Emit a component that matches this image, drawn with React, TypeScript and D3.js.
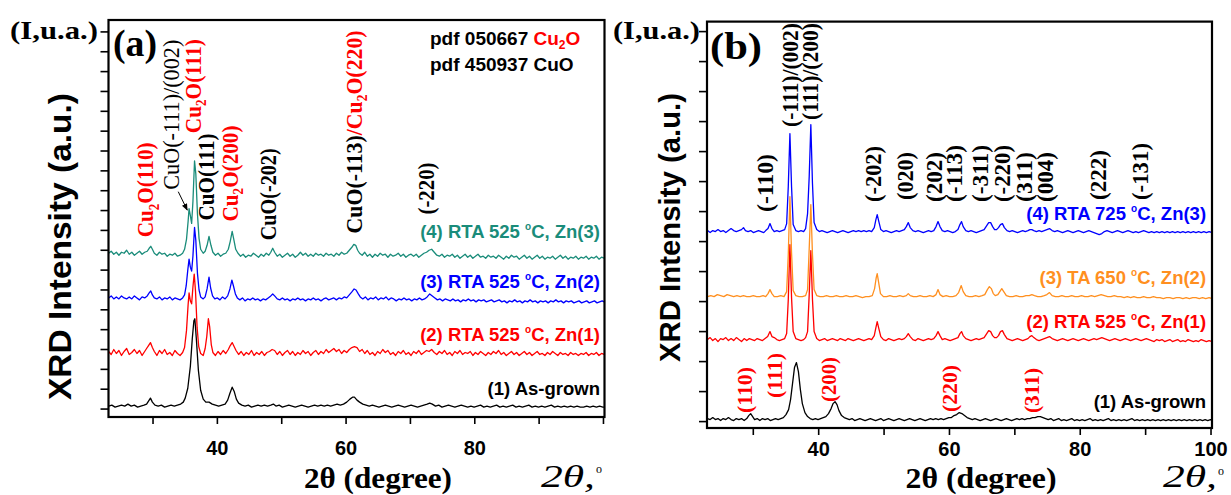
import React from "react";
import * as d3 from "d3";

type Pt = [number, number];

// ---------------- axes data ----------------
const xTickValues = [30, 40, 50, 60, 70, 80, 90, 100];
const xTickLabelsA = [40, 60, 80];
const xTickLabelsB = [40, 60, 80, 100];
const yTicksA = [0, 20, 40, 60, 80, 100, 120, 140, 160, 180, 200, 220, 240, 260, 280, 300, 320, 340, 360, 380];
const yTicksB = [0, 30, 60, 90, 120, 150, 180, 210, 240, 270, 300, 330, 360, 390];

// ---------------- panel (a) series (2θ, intensity above own baseline) ----------------
const offsetsA = [3, 57, 112, 157]; // (1) black, (2) red, (3) blue, (4) teal

const asGrownA: Pt[] = [[23.1,0],[23.6,1],[24.1,-1],[24.6,0],[25.1,1],[25.6,0],[26.1,2],[26.6,0],[27.1,1],[27.6,-1],[28.1,0],[28.6,1],[29.0,2],[29.3,5],[29.6,8],[29.9,4],[30.3,1],[30.8,0],[31.3,1],[31.8,-1],[32.3,0],[32.8,1],[33.3,0],[33.8,1],[34.3,2],[34.7,4],[35.0,8],[35.4,18],[35.8,40],[36.1,68],[36.35,86],[36.5,88],[36.75,66],[37.05,36],[37.4,16],[37.8,7],[38.2,4],[38.7,4],[39.2,2],[39.7,1],[40.2,0],[40.7,1],[41.2,2],[41.6,6],[41.95,13],[42.3,19],[42.6,15],[42.95,7],[43.3,3],[43.8,1],[44.3,0],[44.8,1],[45.3,-1],[45.8,0],[46.3,1],[46.8,0],[47.3,1],[47.8,0],[48.3,1],[48.7,2],[49.1,0],[49.6,1],[50.1,-1],[50.6,0],[51.1,1],[51.6,0],[52.1,-1],[52.6,0],[53.1,1],[53.6,0],[54.1,-1],[54.6,0],[55.1,1],[55.6,0],[56.1,1],[56.6,0],[57.1,1],[57.6,0],[58.1,1],[58.6,2],[59.1,1],[59.6,2],[60.1,4],[60.6,7],[61.0,9],[61.3,9],[61.7,6],[62.1,4],[62.6,2],[63.1,1],[63.6,0],[64.1,1],[64.6,0],[65.1,-1],[65.6,0],[66.1,1],[66.6,0],[67.1,-1],[67.6,0],[68.1,1],[68.6,0],[69.1,-1],[69.6,0],[70.1,1],[70.6,0],[71.1,-1],[71.6,0],[72.1,1],[72.6,2],[73.0,3],[73.4,2],[73.9,0],[74.4,1],[74.9,-1],[75.4,0],[75.9,1],[76.4,0],[76.9,-1],[77.4,0],[77.9,1],[78.4,0],[78.9,-1],[79.4,0],[79.9,-1],[80.4,0],[80.9,1],[81.4,-1],[81.9,0],[82.4,-1],[82.9,0],[83.4,1],[83.9,-1],[84.4,0],[84.9,-1],[85.4,0],[85.9,1],[86.4,-1],[86.9,0],[87.4,-1],[87.9,0],[88.4,1],[88.9,-1],[89.4,0],[89.9,-1],[90.4,0],[90.9,-1],[91.4,0],[91.9,1],[92.4,-1],[92.9,0],[93.4,-1],[93.9,0],[94.4,-1],[94.9,0],[95.4,-1],[95.9,0],[96.4,-1],[96.9,-1],[97.4,0],[97.9,-1],[98.4,0],[98.9,-1],[99.4,0],[99.9,-1],[100.1,-1]];

const rta1A: Pt[] = [[23.1,1],[23.5,-2],[23.9,3],[24.3,-1],[24.7,2],[25.1,-3],[25.5,1],[25.9,4],[26.3,-2],[26.7,0],[27.1,3],[27.5,-1],[27.9,2],[28.3,-3],[28.7,1],[29.0,4],[29.3,7],[29.6,10],[29.9,5],[30.2,1],[30.6,-3],[31.0,2],[31.4,-1],[31.8,3],[32.2,-2],[32.6,0],[33.0,-3],[33.4,2],[33.8,-1],[34.2,-3],[34.6,0],[34.9,5],[35.2,22],[35.45,48],[35.6,60],[35.8,52],[36.0,49],[36.2,66],[36.4,79],[36.6,62],[36.85,25],[37.1,6],[37.4,-1],[37.8,-3],[38.1,4],[38.35,16],[38.6,34],[38.8,26],[39.05,8],[39.3,0],[39.7,-3],[40.1,1],[40.5,-2],[40.9,2],[41.3,-1],[41.7,3],[42.0,7],[42.3,10],[42.6,6],[42.9,2],[43.3,-2],[43.7,1],[44.1,-3],[44.5,0],[44.9,-2],[45.3,2],[45.7,-3],[46.1,0],[46.5,-2],[46.9,1],[47.3,-3],[47.7,0],[48.1,1],[48.5,3],[48.9,2],[49.3,-2],[49.7,1],[50.1,-3],[50.5,0],[50.9,2],[51.3,-2],[51.7,1],[52.1,-3],[52.5,0],[52.9,-2],[53.3,2],[53.7,-1],[54.1,1],[54.5,-3],[54.9,0],[55.3,2],[55.7,-2],[56.1,1],[56.5,-1],[56.9,3],[57.3,0],[57.7,2],[58.1,4],[58.5,1],[58.9,3],[59.3,-1],[59.7,2],[60.1,0],[60.5,3],[60.9,5],[61.3,6],[61.7,5],[62.1,1],[62.5,3],[62.9,-1],[63.3,2],[63.7,-2],[64.1,0],[64.5,-3],[64.9,1],[65.3,-1],[65.7,3],[66.1,0],[66.5,2],[66.9,-2],[67.3,0],[67.7,-3],[68.1,1],[68.5,-1],[68.9,2],[69.3,-2],[69.7,0],[70.1,-3],[70.5,1],[70.9,-1],[71.3,2],[71.7,-2],[72.1,0],[72.5,2],[72.9,1],[73.3,3],[73.7,0],[74.1,-2],[74.5,1],[74.9,-1],[75.3,2],[75.7,-2],[76.1,0],[76.5,-3],[76.9,1],[77.3,-1],[77.7,2],[78.1,-2],[78.5,0],[78.9,-1],[79.3,1],[79.7,-3],[80.1,0],[80.5,-2],[80.9,1],[81.3,-1],[81.7,-3],[82.1,0],[82.5,-2],[82.9,1],[83.3,-1],[83.7,2],[84.1,-2],[84.5,0],[84.9,-3],[85.3,-1],[85.7,1],[86.1,-2],[86.5,0],[86.9,-3],[87.3,-1],[87.7,1],[88.1,-2],[88.5,0],[88.9,-3],[89.3,-1],[89.7,1],[90.1,-2],[90.5,-1],[90.9,-3],[91.3,0],[91.7,-2],[92.1,1],[92.5,-1],[92.9,-3],[93.3,0],[93.7,-2],[94.1,-1],[94.5,-3],[94.9,0],[95.3,-2],[95.7,-1],[96.1,-3],[96.5,-1],[96.9,-2],[97.3,0],[97.7,-3],[98.1,-1],[98.5,-2],[98.9,0],[99.3,-3],[99.7,-1],[100.1,-2]];

const rta2A: Pt[] = [[23.1,0],[23.5,2],[23.9,-1],[24.3,1],[24.7,-1],[25.1,2],[25.5,0],[25.9,-1],[26.3,1],[26.7,-1],[27.1,2],[27.5,0],[27.9,-2],[28.3,1],[28.7,0],[29.1,2],[29.4,5],[29.65,7],[29.9,3],[30.2,0],[30.6,-1],[31.0,1],[31.4,-2],[31.8,0],[32.2,-1],[32.6,1],[33.0,-2],[33.4,0],[33.8,-1],[34.2,-2],[34.6,0],[34.9,3],[35.15,12],[35.4,28],[35.6,39],[35.8,31],[36.0,27],[36.2,42],[36.45,71],[36.65,58],[36.9,25],[37.15,8],[37.4,1],[37.8,-1],[38.1,1],[38.4,9],[38.7,21],[38.95,10],[39.25,2],[39.6,-1],[40.0,0],[40.4,-2],[40.8,1],[41.2,-1],[41.6,2],[41.95,9],[42.25,18],[42.5,12],[42.8,4],[43.1,0],[43.5,-2],[43.9,0],[44.3,-3],[44.7,-1],[45.1,-2],[45.5,0],[45.9,-2],[46.3,-1],[46.7,-3],[47.1,-1],[47.5,-2],[47.9,0],[48.3,2],[48.6,4],[48.9,2],[49.3,-1],[49.7,-2],[50.1,0],[50.5,-2],[50.9,-1],[51.3,-3],[51.7,-1],[52.1,-2],[52.5,0],[52.9,-2],[53.3,-1],[53.7,-3],[54.1,-1],[54.5,-2],[54.9,0],[55.3,-2],[55.7,-1],[56.1,-3],[56.5,-1],[56.9,0],[57.3,-2],[57.7,-1],[58.1,0],[58.5,-2],[58.9,0],[59.3,-1],[59.7,1],[60.1,0],[60.5,3],[60.9,6],[61.25,9],[61.55,8],[61.9,4],[62.2,1],[62.6,-1],[63.0,1],[63.4,-2],[63.8,0],[64.2,-1],[64.6,1],[65.0,-2],[65.4,0],[65.8,-1],[66.2,1],[66.6,-2],[67.0,0],[67.4,-1],[67.8,-3],[68.2,-1],[68.6,-2],[69.0,0],[69.4,-2],[69.8,-1],[70.2,-3],[70.6,-1],[71.0,-2],[71.4,0],[71.8,-2],[72.2,-1],[72.6,1],[73.0,4],[73.4,2],[73.8,0],[74.2,-2],[74.6,-1],[75.0,-3],[75.4,-1],[75.8,-2],[76.2,-3],[76.6,-1],[77.0,-3],[77.4,-2],[77.8,-4],[78.2,-2],[78.6,-3],[79.0,-1],[79.4,-3],[79.8,-2],[80.2,-4],[80.6,-2],[81.0,-3],[81.4,-2],[81.8,-4],[82.2,-3],[82.6,-2],[83.0,-4],[83.4,-3],[83.8,-2],[84.2,-4],[84.6,-3],[85.0,-5],[85.4,-3],[85.8,-4],[86.2,-2],[86.6,-4],[87.0,-3],[87.4,-5],[87.8,-3],[88.2,-4],[88.6,-2],[89.0,-4],[89.4,-3],[89.8,-5],[90.2,-3],[90.6,-4],[91.0,-3],[91.4,-5],[91.8,-3],[92.2,-4],[92.6,-2],[93.0,-4],[93.4,-3],[93.8,-5],[94.2,-3],[94.6,-4],[95.0,-3],[95.4,-5],[95.8,-4],[96.2,-3],[96.6,-5],[97.0,-4],[97.4,-3],[97.8,-5],[98.2,-4],[98.6,-3],[99.0,-5],[99.4,-4],[99.8,-3],[100.1,-4]];

const rta3A: Pt[] = [[23.1,0],[23.5,2],[23.9,-1],[24.3,1],[24.7,-2],[25.1,1],[25.5,0],[25.9,3],[26.3,-1],[26.7,1],[27.1,-2],[27.5,0],[27.9,2],[28.3,-1],[28.7,1],[29.1,2],[29.4,5],[29.65,7],[29.9,4],[30.2,0],[30.6,-2],[31.0,1],[31.4,-1],[31.8,0],[32.2,-3],[32.6,-1],[33.0,-2],[33.4,0],[33.8,-3],[34.2,-2],[34.6,0],[34.9,4],[35.2,14],[35.45,32],[35.6,45],[35.8,38],[36.0,30],[36.2,52],[36.45,93],[36.65,80],[36.9,40],[37.15,15],[37.4,4],[37.8,0],[38.1,2],[38.4,8],[38.7,17],[39.0,8],[39.3,1],[39.7,-2],[40.1,0],[40.5,-3],[40.9,-1],[41.3,0],[41.7,4],[42.0,12],[42.3,22],[42.55,14],[42.85,4],[43.2,0],[43.6,-3],[44.0,-1],[44.4,-4],[44.8,-2],[45.2,-3],[45.6,0],[46.0,-2],[46.4,-4],[46.8,-1],[47.2,-3],[47.6,0],[48.0,-2],[48.3,1],[48.6,5],[48.9,1],[49.3,-3],[49.7,-1],[50.1,-4],[50.5,-2],[50.9,0],[51.3,-3],[51.7,-1],[52.1,-4],[52.5,-2],[52.9,1],[53.3,-2],[53.7,0],[54.1,-3],[54.5,-1],[54.9,-3],[55.3,0],[55.7,-2],[56.1,-1],[56.5,-3],[56.9,0],[57.3,-2],[57.7,-1],[58.1,-3],[58.5,0],[58.9,-2],[59.3,1],[59.7,-1],[60.1,0],[60.5,3],[60.9,6],[61.2,9],[61.5,8],[61.8,3],[62.1,0],[62.5,-2],[62.9,1],[63.3,-3],[63.7,-1],[64.1,-4],[64.5,-1],[64.9,-3],[65.3,0],[65.7,-2],[66.1,-1],[66.5,-4],[66.9,-1],[67.3,-3],[67.7,-2],[68.1,0],[68.5,-3],[68.9,-1],[69.3,-4],[69.7,-2],[70.1,-1],[70.5,-3],[70.9,-1],[71.3,-4],[71.7,-2],[72.1,0],[72.5,1],[72.9,3],[73.3,4],[73.7,1],[74.1,-2],[74.5,-3],[74.9,-1],[75.3,-4],[75.7,-2],[76.1,-3],[76.5,-1],[76.9,-4],[77.3,-2],[77.7,-5],[78.1,-3],[78.5,-1],[78.9,-4],[79.3,-2],[79.7,-5],[80.1,-3],[80.5,-1],[80.9,-4],[81.3,-3],[81.7,-5],[82.1,-2],[82.5,-4],[82.9,-3],[83.3,-5],[83.7,-2],[84.1,-4],[84.5,-6],[84.9,-3],[85.3,-5],[85.7,-2],[86.1,-4],[86.5,-3],[86.9,-6],[87.3,-4],[87.7,-2],[88.1,-5],[88.5,-3],[88.9,-6],[89.3,-4],[89.7,-2],[90.1,-5],[90.5,-3],[90.9,-6],[91.3,-4],[91.7,-5],[92.1,-3],[92.5,-6],[92.9,-4],[93.3,-2],[93.7,-5],[94.1,-3],[94.5,-6],[94.9,-4],[95.3,-5],[95.7,-3],[96.1,-6],[96.5,-4],[96.9,-5],[97.3,-3],[97.7,-6],[98.1,-4],[98.5,-5],[98.9,-3],[99.3,-6],[99.7,-4],[100.1,-5]];

// ---------------- panel (b) series ----------------
const offsetsB = [2, 82, 125, 190]; // (1) black, (2) red, (3) orange, (4) blue

const asGrownB: Pt[] = [[23.0,1],[23.4,0],[23.8,2],[24.2,0],[24.6,1],[25.0,-1],[25.4,1],[25.8,0],[26.2,2],[26.6,0],[27.0,-1],[27.4,1],[27.8,0],[28.2,1],[28.6,-1],[29.0,1],[29.3,4],[29.6,6],[29.9,3],[30.2,0],[30.6,1],[31.0,-1],[31.4,1],[31.8,0],[32.2,1],[32.6,-1],[33.0,0],[33.4,1],[33.8,0],[34.2,1],[34.6,2],[35.0,5],[35.4,10],[35.7,20],[36.0,36],[36.3,52],[36.6,57],[36.9,48],[37.2,30],[37.5,16],[37.9,7],[38.3,3],[38.7,1],[39.1,0],[39.5,1],[39.9,0],[40.3,1],[40.7,2],[41.1,3],[41.5,6],[41.9,11],[42.2,16],[42.5,18],[42.8,15],[43.1,9],[43.5,4],[43.9,2],[44.3,1],[44.7,0],[45.1,1],[45.5,-1],[45.9,0],[46.3,1],[46.7,0],[47.1,-1],[47.5,0],[47.9,1],[48.3,0],[48.7,-1],[49.1,0],[49.5,1],[49.9,-1],[50.3,0],[50.7,1],[51.1,0],[51.5,-1],[51.9,0],[52.3,1],[52.7,0],[53.1,-1],[53.5,0],[53.9,1],[54.3,0],[54.7,-1],[55.1,0],[55.5,1],[55.9,0],[56.3,-1],[56.7,0],[57.1,1],[57.5,0],[57.9,1],[58.3,0],[58.7,1],[59.1,0],[59.5,1],[59.9,2],[60.3,2],[60.7,4],[61.1,5],[61.5,7],[61.9,6],[62.3,4],[62.7,2],[63.1,1],[63.5,0],[63.9,1],[64.3,0],[64.7,-1],[65.1,0],[65.5,1],[65.9,0],[66.3,-1],[66.7,0],[67.1,1],[67.5,0],[67.9,-1],[68.3,0],[68.7,1],[69.1,0],[69.5,-1],[69.9,0],[70.3,1],[70.7,0],[71.1,1],[71.5,0],[71.9,1],[72.3,1],[72.7,2],[73.1,2],[73.5,3],[73.9,3],[74.3,2],[74.7,1],[75.1,0],[75.5,1],[75.9,-1],[76.3,0],[76.7,1],[77.1,-1],[77.5,0],[77.9,-1],[78.3,0],[78.7,1],[79.1,-1],[79.5,0],[79.9,-1],[80.3,0],[80.7,-1],[81.1,0],[81.5,1],[81.9,-1],[82.3,0],[82.7,-1],[83.1,0],[83.5,-1],[83.9,0],[84.3,1],[84.7,-1],[85.1,0],[85.5,-1],[85.9,0],[86.3,-1],[86.7,0],[87.1,-1],[87.5,0],[87.9,1],[88.3,-1],[88.7,0],[89.1,-1],[89.5,0],[89.9,-1],[90.3,0],[90.7,-1],[91.1,0],[91.5,-1],[91.9,0],[92.3,-1],[92.7,0],[93.1,-1],[93.5,0],[93.9,-1],[94.3,0],[94.7,-1],[95.1,0],[95.5,-1],[95.9,0],[96.3,-1],[96.7,0],[97.1,-1],[97.5,0],[97.9,-1],[98.3,0],[98.7,-1],[99.1,0],[99.5,-1],[99.9,0],[100.2,-1]];

const rta525B: Pt[] = [[23.0,0],[23.4,2],[23.8,-1],[24.2,1],[24.6,-2],[25.0,1],[25.4,0],[25.8,2],[26.2,-1],[26.6,1],[27.0,-1],[27.4,2],[27.8,0],[28.2,-2],[28.6,1],[29.0,-1],[29.4,1],[29.8,0],[30.2,-1],[30.6,1],[31.0,0],[31.4,-1],[31.8,1],[32.2,3],[32.55,8],[32.85,3],[33.2,2],[33.6,0],[34.0,-1],[34.4,0],[34.8,1],[35.1,6],[35.35,40],[35.6,95],[35.85,42],[36.1,8],[36.5,1],[36.9,0],[37.3,-1],[37.7,0],[38.0,2],[38.3,8],[38.55,45],[38.8,89],[39.05,40],[39.3,8],[39.7,1],[40.1,-1],[40.5,0],[40.9,1],[41.3,-1],[41.7,0],[42.1,1],[42.5,0],[42.9,-1],[43.3,1],[43.7,0],[44.1,-1],[44.5,1],[44.9,0],[45.3,-1],[45.7,0],[46.1,1],[46.5,0],[46.9,-1],[47.3,0],[47.7,1],[48.1,0],[48.5,4],[48.75,12],[48.95,18],[49.2,11],[49.5,3],[49.9,0],[50.3,-1],[50.7,1],[51.1,0],[51.5,-1],[51.9,0],[52.3,1],[52.7,0],[53.1,1],[53.4,3],[53.7,6],[54.0,3],[54.4,0],[54.8,-1],[55.2,1],[55.6,0],[56.0,-1],[56.4,0],[56.8,1],[57.2,0],[57.6,1],[57.95,4],[58.25,8],[58.55,4],[58.9,0],[59.3,1],[59.7,0],[60.1,-1],[60.5,0],[60.9,1],[61.3,2],[61.6,6],[61.85,8],[62.1,4],[62.5,1],[62.9,0],[63.3,-1],[63.7,0],[64.1,1],[64.5,0],[64.9,1],[65.3,2],[65.7,6],[66.0,9],[66.3,8],[66.6,4],[66.9,2],[67.2,2],[67.5,4],[67.8,8],[68.1,9],[68.4,5],[68.8,1],[69.2,0],[69.6,-1],[70.0,0],[70.4,1],[70.8,0],[71.2,-1],[71.6,0],[72.0,1],[72.3,3],[72.6,4],[72.9,2],[73.3,0],[73.7,-1],[74.1,0],[74.5,1],[74.9,2],[75.3,3],[75.7,1],[76.1,0],[76.5,-1],[76.9,0],[77.3,1],[77.7,0],[78.1,-1],[78.5,0],[78.9,1],[79.3,0],[79.7,-1],[80.1,0],[80.5,1],[80.9,0],[81.3,-1],[81.7,0],[82.1,1],[82.5,0],[82.9,1],[83.3,2],[83.7,1],[84.1,0],[84.5,-1],[84.9,0],[85.3,1],[85.7,0],[86.1,-1],[86.5,0],[86.9,1],[87.3,0],[87.7,-1],[88.1,0],[88.5,1],[88.9,0],[89.3,-1],[89.7,0],[90.1,1],[90.5,0],[90.9,-1],[91.3,-2],[91.7,0],[92.1,-1],[92.5,0],[92.9,-2],[93.3,-1],[93.7,0],[94.1,-2],[94.5,-1],[94.9,0],[95.3,-2],[95.7,-1],[96.1,-2],[96.5,0],[96.9,-1],[97.3,-2],[97.7,-1],[98.1,-2],[98.5,0],[98.9,-1],[99.3,-2],[99.7,-1],[100.2,-2]];

const ta650B: Pt[] = [[23.0,0],[23.5,1],[24.0,0],[24.5,2],[25.0,1],[25.5,0],[26.0,2],[26.5,1],[27.0,0],[27.5,1],[28.0,0],[28.5,1],[29.0,0],[29.5,0],[30.0,1],[30.5,0],[31.0,0],[31.5,1],[31.9,0],[32.25,3],[32.55,7],[32.85,3],[33.2,0],[33.7,0],[34.2,1],[34.7,0],[35.1,5],[35.35,42],[35.6,100],[35.85,44],[36.1,6],[36.5,1],[37.0,0],[37.5,0],[38.0,1],[38.3,7],[38.55,48],[38.8,92],[39.05,42],[39.3,7],[39.7,1],[40.2,0],[40.7,0],[41.2,1],[41.7,0],[42.2,0],[42.7,1],[43.2,0],[43.7,0],[44.2,1],[44.7,0],[45.2,0],[45.7,1],[46.2,0],[46.7,-1],[47.2,0],[47.7,0],[48.2,1],[48.55,8],[48.8,19],[48.95,23],[49.15,15],[49.45,3],[49.9,0],[50.4,0],[50.9,1],[51.4,0],[51.9,0],[52.4,1],[52.9,0],[53.4,1],[53.7,3],[54.0,1],[54.5,0],[55.0,0],[55.5,1],[56.0,0],[56.5,0],[57.0,1],[57.5,0],[57.95,2],[58.25,7],[58.55,2],[59.0,0],[59.5,1],[60.0,0],[60.5,0],[61.0,1],[61.4,4],[61.8,11],[62.1,5],[62.5,1],[63.0,0],[63.5,0],[64.0,1],[64.5,0],[65.0,1],[65.4,2],[65.8,7],[66.1,10],[66.4,8],[66.7,3],[67.0,1],[67.4,2],[67.7,5],[68.0,8],[68.3,5],[68.7,1],[69.2,0],[69.7,0],[70.2,1],[70.7,0],[71.2,0],[71.7,1],[72.2,1],[72.6,2],[73.0,1],[73.5,0],[74.0,0],[74.5,1],[74.9,2],[75.3,4],[75.7,1],[76.2,0],[76.7,0],[77.2,1],[77.7,0],[78.2,0],[78.7,1],[79.2,0],[79.7,0],[80.2,1],[80.7,0],[81.2,0],[81.7,1],[82.2,0],[82.7,1],[83.2,2],[83.7,1],[84.2,0],[84.7,0],[85.2,1],[85.7,0],[86.2,0],[86.7,-1],[87.2,0],[87.7,-1],[88.2,0],[88.7,-1],[89.2,-1],[89.7,0],[90.2,-1],[90.7,-1],[91.2,0],[91.7,-1],[92.2,-1],[92.7,-2],[93.2,-1],[93.7,-1],[94.2,-2],[94.7,-1],[95.2,-1],[95.7,-2],[96.2,-1],[96.7,-2],[97.2,-1],[97.7,-1],[98.2,-2],[98.7,-1],[99.2,-2],[99.7,-1],[100.2,-2]];

const rta725B: Pt[] = [[23.0,1],[23.4,-1],[23.8,1],[24.2,0],[24.6,2],[25.0,0],[25.4,1],[25.8,-1],[26.2,1],[26.6,3],[27.0,1],[27.4,0],[27.8,1],[28.2,2],[28.5,4],[28.8,1],[29.2,0],[29.6,1],[30.0,-1],[30.4,0],[30.8,1],[31.2,0],[31.6,-1],[31.9,1],[32.25,3],[32.55,8],[32.85,3],[33.2,0],[33.6,1],[34.0,0],[34.4,1],[34.8,2],[35.1,8],[35.35,45],[35.6,98],[35.85,45],[36.1,7],[36.5,1],[36.9,0],[37.3,1],[37.7,0],[38.0,3],[38.3,18],[38.55,55],[38.8,107],[39.05,48],[39.3,9],[39.7,2],[40.1,0],[40.5,1],[40.9,0],[41.3,-1],[41.7,0],[42.1,1],[42.5,0],[42.9,-1],[43.3,0],[43.7,1],[44.1,0],[44.5,-1],[44.9,0],[45.3,1],[45.7,0],[46.1,1],[46.5,0],[46.9,1],[47.3,0],[47.7,1],[48.1,0],[48.5,4],[48.75,12],[48.95,17],[49.2,10],[49.5,2],[49.9,0],[50.3,1],[50.7,0],[51.1,-1],[51.5,0],[51.9,1],[52.3,0],[52.7,1],[53.1,2],[53.4,5],[53.7,9],[54.0,4],[54.4,1],[54.8,0],[55.2,1],[55.6,0],[56.0,-1],[56.4,0],[56.8,1],[57.2,0],[57.6,1],[57.95,5],[58.25,10],[58.55,5],[58.9,1],[59.3,0],[59.7,1],[60.1,0],[60.5,-1],[60.9,0],[61.3,2],[61.6,7],[61.85,10],[62.1,5],[62.5,1],[62.9,0],[63.3,1],[63.7,0],[64.1,-1],[64.5,0],[64.9,1],[65.3,2],[65.7,6],[66.0,9],[66.3,9],[66.6,5],[66.9,2],[67.2,2],[67.5,4],[67.8,7],[68.1,8],[68.4,4],[68.8,1],[69.2,0],[69.6,1],[70.0,0],[70.4,-1],[70.8,0],[71.2,1],[71.6,0],[72.0,1],[72.3,2],[72.6,2],[72.9,1],[73.3,0],[73.7,1],[74.1,0],[74.5,1],[74.9,2],[75.3,3],[75.7,1],[76.1,0],[76.5,1],[76.9,0],[77.3,-1],[77.7,0],[78.1,1],[78.5,0],[78.9,-1],[79.3,0],[79.7,1],[80.1,0],[80.5,-1],[80.9,0],[81.3,1],[81.7,0],[82.1,-1],[82.5,-2],[82.9,-3],[83.3,-2],[83.7,0],[84.1,1],[84.5,0],[84.9,-1],[85.3,0],[85.7,1],[86.1,0],[86.5,-1],[86.9,0],[87.3,1],[87.7,0],[88.1,-1],[88.5,0],[88.9,-1],[89.3,0],[89.7,1],[90.1,0],[90.5,-1],[90.9,0],[91.3,-1],[91.7,0],[92.1,-1],[92.5,0],[92.9,-1],[93.3,0],[93.7,-1],[94.1,0],[94.5,-1],[94.9,0],[95.3,-1],[95.7,0],[96.1,-1],[96.5,0],[96.9,-1],[97.3,0],[97.7,-1],[98.1,0],[98.5,-1],[98.9,0],[99.3,-1],[99.7,0],[100.2,-1]];

// ---------------- legends ----------------
const legendA = ["(1) As-grown", "(2) RTA 525 |C, Zn(1)", "(3) RTA 525 |C, Zn(2)", "(4) RTA 525 |C, Zn(3)"];
const legendB = ["(1) As-grown", "(2) RTA 525 |C, Zn(1)", "(3) TA 650 |C, Zn(2)", "(4) RTA 725 |C, Zn(3)"];

// ---------------- peak annotations ----------------
// parts: [text, phase ("o" = Cu2O red, "c" = CuO black), subscript?]
type Part = [string, string, boolean?];
const peakLabelsA: { pos: number; at: number; len: number; parts: Part[]; light?: boolean }[] = [
  { pos: 29.14, at: 173, len: 95, parts: [["Cu", "o"], ["2", "o", true], ["O(110)", "o"]] },
  { pos: 33.15, at: 221, len: 150, parts: [["CuO(-111)/(002)", "c"]], light: true },
  { pos: 36.52, at: 278, len: 94, parts: [["Cu", "o"], ["2", "o", true], ["O(111)", "o"]] },
  { pos: 38.5, at: 190, len: 87, parts: [["CuO(111)", "c"]] },
  { pos: 42.3, at: 189, len: 96, parts: [["Cu", "o"], ["2", "o", true], ["O(200)", "o"]] },
  { pos: 48.2, at: 170, len: 92, parts: [["CuO(-202)", "c"]] },
  { pos: 61.54, at: 177, len: 203, parts: [["CuO(-113)", "c"], ["/Cu", "o"], ["2", "o", true], ["O(220)", "o"]] },
  { pos: 72.77, at: 196, len: 52, parts: [["(-220)", "c"]] },
];
const arrowA: Pt[] = [[33.92, 219], [35.32, 200.5]];

const peakLabelsB: { pos: number; at: number; len: number; text: string }[] = [
  { pos: 32.03, at: 209.6, len: 58, text: "(-110)" },
  { pos: 35.86, at: 294.6, len: 104, text: "(-111)/(002)" },
  { pos: 38.91, at: 301.6, len: 97, text: "(111)/(200)" },
  { pos: 48.6, at: 219.6, len: 56, text: "(-202)" },
  { pos: 53.44, at: 221.6, len: 48, text: "(020)" },
  { pos: 57.93, at: 219.6, len: 50, text: "(202)" },
  { pos: 60.99, at: 219.6, len: 57, text: "(-113)" },
  { pos: 64.92, at: 219.6, len: 57, text: "(-311)" },
  { pos: 68.33, at: 219.6, len: 57, text: "(-220)" },
  { pos: 71.69, at: 219.6, len: 50, text: "(311)" },
  { pos: 74.86, at: 219.6, len: 50, text: "(004)" },
  { pos: 82.97, at: 221.6, len: 50, text: "(222)" },
  { pos: 89.5, at: 221.6, len: 57, text: "(-131)" },
];
const cu2oLabelsB: { pos: number; at: number; len: number; text: string }[] = [
  { pos: 28.97, at: 8.6, len: 46, text: "(110)" },
  { pos: 33.45, at: 23.6, len: 45, text: "(111)" },
  { pos: 41.71, at: 19.6, len: 45, text: "(200)" },
  { pos: 60.33, at: 9.6, len: 47, text: "(220)" },
  { pos: 72.8, at: 8.6, len: 45, text: "(311)" },
];

// ---------------- styling ----------------
const SANS = "'Liberation Sans', Arial, sans-serif";
const SERIF = "'Liberation Serif', 'Times New Roman', serif";
const RED = "#ff0000";
const BLUE = "#0000ff";
const TEAL = "#1a8c7a";
const ORANGE = "#ff8f1f";
const colorsA = ["#000000", RED, BLUE, TEAL];
const colorsB = ["#000000", RED, ORANGE, BLUE];

function Legend({ x, y, label, color }: { x: number; y: number; label: string; color: string }) {
  const [pre, post] = label.split("|");
  return (
    <text x={x} y={y} textAnchor="end" fontFamily={SANS} fontWeight="bold" fontSize={18.5} fill={color}>
      {pre}
      {post !== undefined && (
        <>
          <tspan fontSize={10} dy={-8}>o</tspan>
          <tspan dy={8}>{post}</tspan>
        </>
      )}
    </text>
  );
}

function RotText({ x, y, size, weight, len, children }: { x: number; y: number; size: number; weight: string; len: number; children: React.ReactNode }) {
  return (
    <text transform={`translate(${x + 0.26 * size},${y}) rotate(-90)`} fontFamily={SERIF} fontSize={size} fontWeight={weight} textLength={len} lengthAdjust="spacingAndGlyphs">
      {children}
    </text>
  );
}

export default function App() {
  const xA = d3.scaleLinear().domain([23.08, 100.16]).range([108.5, 604.5]);
  const yA = d3.scaleLinear().domain([-8, 392]).range([417, 20]);
  const xB = d3.scaleLinear().domain([22.92, 100.15]).range([707, 1212]);
  const yB = d3.scaleLinear().domain([-6.4, 400]).range([428, 21.6]);

  const seriesA = [asGrownA, rta1A, rta2A, rta3A];
  const seriesB = [asGrownB, rta525B, ta650B, rta725B];
  const mk = (xs: d3.ScaleLinear<number, number>, ys: d3.ScaleLinear<number, number>, off: number) =>
    d3.line<Pt>().x((d) => xs(d[0])).y((d) => ys(d[1] + off));

  const orderA = [3, 2, 1, 0];
  const orderB = [0, 1, 2, 3];
  const legendAtA = [14.5, 68.5, 122, 172];
  const legendAtB = [13.6, 93.6, 138, 202];

  const frame = (xs: d3.ScaleLinear<number, number>, ys: d3.ScaleLinear<number, number>) => {
    const [x0, x1] = xs.range();
    const [y0, y1] = ys.range();
    return { x0, x1, yb: y0, yt: y1 };
  };
  const fA = frame(xA, yA);
  const fB = frame(xB, yB);

  const subDy = (size: number) => 0.22 * size;

  const renderParts = (parts: Part[], size: number) =>
    parts.map((p, i) => {
      const col = p[1] === "o" ? RED : "#000";
      if (p[2]) {
        return (
          <tspan key={i} fill={col} fontSize={size * 0.62} dy={subDy(size)}>{p[0]}</tspan>
        );
      }
      const prevSub = i > 0 && parts[i - 1][2];
      return (
        <tspan key={i} fill={col} dy={prevSub ? -subDy(size) : undefined}>{p[0]}</tspan>
      );
    });

  return (
    <svg width={1231} height={495} style={{ position: "absolute", left: 0, top: 0, background: "#fff" }}>
      <defs>
        <marker id="arrowHead" viewBox="0 0 10 10" refX="9" refY="5" markerWidth="7" markerHeight="7" orient="auto">
          <path d="M0,1 L10,5 L0,9 z" fill="#000" />
        </marker>
      </defs>
      <rect x={0} y={0} width={1231} height={495} fill="#fff" />

      {/* ================= PANEL A ================= */}
      {orderA.map((i) => (
        <path key={i} d={mk(xA, yA, offsetsA[i])(seriesA[i]) || ""} fill="none" stroke={colorsA[i]} strokeWidth={1.3} strokeLinejoin="round" />
      ))}
      <rect x={fA.x0} y={fA.yt} width={fA.x1 - fA.x0} height={fA.yb - fA.yt} fill="none" stroke="#000" strokeWidth={2.2} />
      {yTicksA.map((t) => (
        <line key={t} x1={fA.x0 - 8} x2={fA.x0} y1={yA(t)} y2={yA(t)} stroke="#000" strokeWidth={1.6} />
      ))}
      {xTickValues.map((t) => (
        <line key={t} x1={xA(t)} x2={xA(t)} y1={fA.yb} y2={fA.yb + 7} stroke="#000" strokeWidth={1.6} />
      ))}
      {xTickLabelsA.map((t) => (
        <text key={t} x={xA(t)} y={455} textAnchor="middle" fontFamily={SANS} fontWeight="bold" fontSize={20}>{t}</text>
      ))}
      {legendA.map((l, i) => (
        <Legend key={i} x={xA(99.46)} y={yA(legendAtA[i])} label={l} color={colorsA[i]} />
      ))}
      {peakLabelsA.map((p, i) => {
        const size = 23;
        return (
          <RotText key={i} x={xA(p.pos)} y={yA(p.at)} size={size} len={p.len} weight={p.light ? "normal" : "bold"}>
            {renderParts(p.parts, size)}
          </RotText>
        );
      })}
      <line x1={xA(arrowA[0][0])} y1={yA(arrowA[0][1])} x2={xA(arrowA[1][0])} y2={yA(arrowA[1][1])} stroke="#000" strokeWidth={1} markerEnd="url(#arrowHead)" />
      <text x={430} y={45} fontFamily={SANS} fontWeight="bold" fontSize={19}>
        pdf 050667 <tspan fill={RED}>Cu</tspan><tspan fill={RED} fontSize={12} dy={4}>2</tspan><tspan fill={RED} dy={-4}>O</tspan>
      </text>
      <text x={430} y={71} fontFamily={SANS} fontWeight="bold" fontSize={19}>pdf 450937 CuO</text>
      <text x={113} y={55.5} fontFamily={SERIF} fontWeight="bold" fontSize={38} textLength={44} lengthAdjust="spacingAndGlyphs">(a)</text>
      <text x={10} y={39} fontFamily={SERIF} fontWeight="bold" fontSize={25} textLength={88} lengthAdjust="spacingAndGlyphs">(I,u.a.)</text>
      <text transform="translate(71,246.5) rotate(-90)" textAnchor="middle" fontFamily={SANS} fontWeight="bold" fontSize={32} textLength={307} lengthAdjust="spacingAndGlyphs">XRD Intensity (a.u.)</text>
      <text x={378} y={488} textAnchor="middle" fontFamily={SERIF} fontWeight="bold" fontSize={29} textLength={148} lengthAdjust="spacingAndGlyphs">2θ (degree)</text>
      <text x={541} y={487} fontFamily={SERIF} fontStyle="italic" fontSize={32} textLength={54} lengthAdjust="spacingAndGlyphs">2θ,</text>
      <text x={596} y={473} fontFamily={SERIF} fontSize={12}>o</text>

      {/* ================= PANEL B ================= */}
      {orderB.map((i) => (
        <path key={i} d={mk(xB, yB, offsetsB[i])(seriesB[i]) || ""} fill="none" stroke={colorsB[i]} strokeWidth={1.3} strokeLinejoin="round" />
      ))}
      <rect x={fB.x0} y={fB.yt} width={fB.x1 - fB.x0} height={fB.yb - fB.yt} fill="none" stroke="#000" strokeWidth={2.2} />
      {yTicksB.map((t) => (
        <line key={t} x1={fB.x0 - 8} x2={fB.x0} y1={yB(t)} y2={yB(t)} stroke="#000" strokeWidth={1.6} />
      ))}
      {xTickValues.map((t) => (
        <line key={t} x1={xB(t)} x2={xB(t)} y1={fB.yb} y2={fB.yb + 7} stroke="#000" strokeWidth={1.6} />
      ))}
      {xTickLabelsB.map((t) => (
        <text key={t} x={xB(t)} y={456} textAnchor="middle" fontFamily={SANS} fontWeight="bold" fontSize={20}>{t}</text>
      ))}
      {legendB.map((l, i) => (
        <Legend key={i} x={xB(99.24)} y={yB(legendAtB[i])} label={l} color={colorsB[i]} />
      ))}
      {peakLabelsB.map((p, i) => (
        <RotText key={i} x={xB(p.pos)} y={yB(p.at)} size={23} len={p.len} weight="bold">
          <tspan fill="#000">{p.text}</tspan>
        </RotText>
      ))}
      {cu2oLabelsB.map((p, i) => (
        <RotText key={i} x={xB(p.pos)} y={yB(p.at)} size={22} len={p.len} weight="bold">
          <tspan fill={RED}>{p.text}</tspan>
        </RotText>
      ))}
      <text x={710} y={58.5} fontFamily={SERIF} fontWeight="bold" fontSize={38} textLength={52} lengthAdjust="spacingAndGlyphs">(b)</text>
      <text x={613} y={39} fontFamily={SERIF} fontWeight="bold" fontSize={25} textLength={87} lengthAdjust="spacingAndGlyphs">(I,u.a.)</text>
      <text transform="translate(680,227.5) rotate(-90)" textAnchor="middle" fontFamily={SANS} fontWeight="bold" fontSize={29} textLength={269} lengthAdjust="spacingAndGlyphs">XRD Intensity (a.u.)</text>
      <text x={981} y={488} textAnchor="middle" fontFamily={SERIF} fontWeight="bold" fontSize={29} textLength={151} lengthAdjust="spacingAndGlyphs">2θ (degree)</text>
      <text x={1163} y={487} fontFamily={SERIF} fontStyle="italic" fontSize={32} textLength={54} lengthAdjust="spacingAndGlyphs">2θ,</text>
      <text x={1218} y={475} fontFamily={SERIF} fontSize={12}>o</text>
    </svg>
  );
}
